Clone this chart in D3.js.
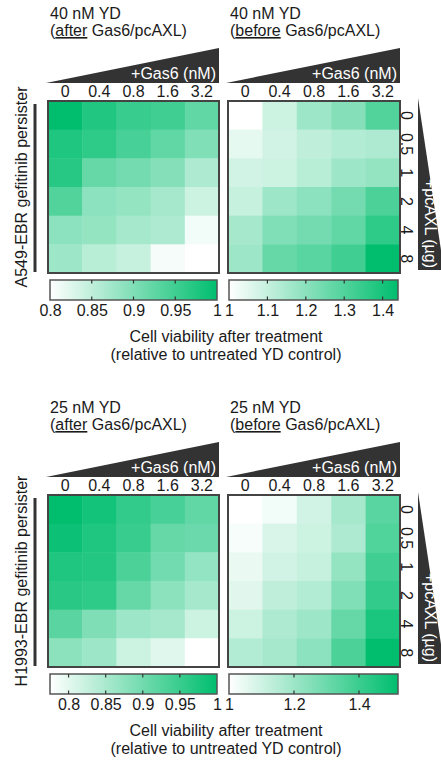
<!DOCTYPE html>
<html>
<head>
<meta charset="utf-8">
<script src="https://cdn.jsdelivr.net/npm/d3@7"></script>
<style>
  body { margin: 0; background: #fff; }
  text { font-family: "Liberation Sans", Arial, sans-serif; fill: #1a1a1a; }
</style>
</head>
<body>
<script>
// column / row labels
const gas6Labels = ["0", "0.4", "0.8", "1.6", "3.2"];
const pcaxlLabels = ["0", "0.5", "1", "2", "4", "8"];

// cell viability (rows = pcAXL, cols = Gas6)
const a549After = [
  [1.000, 0.974, 0.956, 0.950, 0.924],
  [0.976, 0.964, 0.944, 0.924, 0.900],
  [0.970, 0.920, 0.910, 0.896, 0.864],
  [0.936, 0.890, 0.884, 0.870, 0.840],
  [0.890, 0.884, 0.870, 0.864, 0.810],
  [0.876, 0.856, 0.844, 0.808, 0.800]
];
const a549Before = [
  [1.000, 1.088, 1.167, 1.211, 1.299],
  [1.044, 1.079, 1.110, 1.132, 1.141],
  [1.079, 1.088, 1.123, 1.167, 1.185],
  [1.097, 1.167, 1.198, 1.242, 1.308],
  [1.154, 1.220, 1.242, 1.273, 1.361],
  [1.167, 1.264, 1.286, 1.330, 1.440]
];
const h1993After = [
  [1.000, 0.982, 0.955, 0.937, 0.915],
  [0.989, 0.973, 0.951, 0.910, 0.906],
  [0.973, 0.969, 0.933, 0.899, 0.870],
  [0.964, 0.960, 0.910, 0.876, 0.854],
  [0.921, 0.888, 0.861, 0.854, 0.820],
  [0.876, 0.861, 0.820, 0.802, 0.775]
];
const h1993Before = [
  [1.000, 1.026, 1.094, 1.182, 1.338],
  [1.016, 1.078, 1.104, 1.166, 1.354],
  [1.042, 1.094, 1.114, 1.218, 1.390],
  [1.062, 1.130, 1.156, 1.260, 1.416],
  [1.104, 1.166, 1.198, 1.312, 1.468],
  [1.156, 1.182, 1.234, 1.364, 1.520]
];

// colorbar ranges and ticks
const a549AfterDomain = [0.8, 1.0];
const a549BeforeDomain = [1.0, 1.44];
const h1993AfterDomain = [0.775, 1.0];
const h1993BeforeDomain = [1.0, 1.52];
const a549AfterTicks = [0.8, 0.85, 0.9, 0.95, 1];
const a549BeforeTicks = [1, 1.1, 1.2, 1.3, 1.4];
const h1993AfterTicks = [0.8, 0.85, 0.9, 0.95, 1];
const h1993BeforeTicks = [1, 1.2, 1.4];

const WHITE = "#ffffff", GREEN = "#00be6e", DARK = "#333333";
const FS = "16px";

const svg = d3.select("body").append("svg")
  .attr("width", 441)
  .attr("height", 760);

let gradId = 0;

function heatmap(g, x0, x1, data, domain, ticks, titleDose, when, barX0, barX1) {
  const color = d3.scaleLinear().domain(domain).range([WHITE, GREEN])
    .interpolate(d3.interpolateRgb).clamp(true);
  const x = d3.scaleBand().domain(gas6Labels).range([x0, x1]);
  const y = d3.scaleBand().domain(pcaxlLabels).range([101, 273]);

  // title
  g.append("text").attr("x", x0 + 2).attr("y", 19)
    .style("font-size", FS).text(titleDose);
  const t2 = g.append("text").attr("x", x0 + 2).attr("y", 36).style("font-size", FS);
  t2.append("tspan").text("(");
  t2.append("tspan").attr("text-decoration", "underline").text(when);
  t2.append("tspan").text(" Gas6/pcAXL)");

  // Gas6 wedge
  g.append("path")
    .attr("d", `M${x0 - 2},83 L${x1},83 L${x1},48 Z`)
    .attr("fill", DARK);
  g.append("text").attr("x", x1 - 3).attr("y", 79)
    .attr("text-anchor", "end").style("font-size", FS).style("fill", "#fff")
    .text("+Gas6 (nM)");

  // column labels
  g.selectAll(".col").data(gas6Labels).enter().append("text")
    .attr("x", d => x(d) + x.bandwidth() / 2)
    .attr("y", 97)
    .attr("text-anchor", "middle")
    .style("font-size", FS)
    .text(d => d);

  // cells
  const cells = [];
  data.forEach((row, i) => row.forEach((v, j) => cells.push({ r: pcaxlLabels[i], c: gas6Labels[j], v })));
  g.selectAll(".cell").data(cells).enter().append("rect")
    .attr("x", d => x(d.c))
    .attr("y", d => y(d.r))
    .attr("width", x.bandwidth() + 0.5)
    .attr("height", y.bandwidth() + 0.5)
    .attr("fill", d => color(d.v));
  g.append("rect")
    .attr("x", x0).attr("y", 101)
    .attr("width", x1 - x0).attr("height", 172)
    .attr("fill", "none").attr("stroke", "#444").attr("stroke-width", 2);

  // colorbar
  const cb = d3.scaleLinear().domain(domain).range([barX0, barX1]);
  const id = "grad" + (gradId++);
  const grad = svg.append("defs").append("linearGradient").attr("id", id);
  grad.append("stop").attr("offset", "0%").attr("stop-color", WHITE);
  grad.append("stop").attr("offset", "100%").attr("stop-color", GREEN);
  g.append("rect")
    .attr("x", barX0).attr("y", 280)
    .attr("width", barX1 - barX0).attr("height", 20)
    .attr("fill", `url(#${id})`)
    .attr("stroke", "#555").attr("stroke-width", 1.5);
  const inner = ticks.filter(t => cb(t) > barX0 + 2 && cb(t) < barX1 - 2);
  g.selectAll(".tkt").data(inner).enter().append("line")
    .attr("x1", d => cb(d)).attr("x2", d => cb(d))
    .attr("y1", 280).attr("y2", 283.5)
    .attr("stroke", "#333").attr("stroke-width", 1.2);
  g.selectAll(".tkb").data(inner).enter().append("line")
    .attr("x1", d => cb(d)).attr("x2", d => cb(d))
    .attr("y1", 296.5).attr("y2", 300)
    .attr("stroke", "#333").attr("stroke-width", 1.2);
  const axis = d3.axisBottom(cb).tickValues(ticks).tickSize(0).tickPadding(0)
    .tickFormat(d3.format("~g"));
  const ax = g.append("g").attr("transform", "translate(0,305)").call(axis);
  ax.select(".domain").remove();
  ax.selectAll("text").style("font-size", FS).style("font-family", null)
    .attr("dy", "0.71em").attr("fill", null);
}

function panel(oy, dose, cellLine, after, before, dAfter, dBefore, tAfter, tBefore) {
  const g = svg.append("g").attr("transform", `translate(0,${oy})`);
  heatmap(g, 48, 219, after, dAfter, tAfter, dose, "after", 50, 217);
  heatmap(g, 228, 400, before, dBefore, tBefore, dose, "before", 229, 398);

  // cell line label
  g.append("line").attr("x1", 35).attr("x2", 35).attr("y1", 104).attr("y2", 272)
    .attr("stroke", DARK).attr("stroke-width", 3);
  g.append("text")
    .attr("transform", "translate(21,187) rotate(-90)")
    .attr("text-anchor", "middle").attr("dominant-baseline", "central")
    .style("font-size", FS).text(cellLine);

  // pcAXL row labels + wedge
  const y = d3.scaleBand().domain(pcaxlLabels).range([101, 273]);
  g.selectAll(".row").data(pcaxlLabels).enter().append("text")
    .attr("transform", d => `translate(406,${y(d) + y.bandwidth() / 2}) rotate(90)`)
    .attr("text-anchor", "middle").attr("dominant-baseline", "central")
    .style("font-size", FS).text(d => d);
  g.append("path").attr("d", "M418,98 L418,270 L444,270 Z").attr("fill", DARK);
  g.append("text")
    .attr("transform", "translate(430,268) rotate(90)")
    .attr("text-anchor", "end").attr("dominant-baseline", "central")
    .style("font-size", FS).style("fill", "#fff").text("+pcAXL (µg)");

  // colorbar title
  g.append("text").attr("x", 226).attr("y", 342).attr("text-anchor", "middle")
    .style("font-size", FS).text("Cell viability after treatment");
  g.append("text").attr("x", 226).attr("y", 360).attr("text-anchor", "middle")
    .style("font-size", FS).text("(relative to untreated YD control)");
}

panel(0, "40 nM YD", "A549-EBR gefitinib persister", a549After, a549Before,
  a549AfterDomain, a549BeforeDomain, a549AfterTicks, a549BeforeTicks);
panel(394, "25 nM YD", "H1993-EBR gefitinib persister", h1993After, h1993Before,
  h1993AfterDomain, h1993BeforeDomain, h1993AfterTicks, h1993BeforeTicks);
</script>
</body>
</html>
